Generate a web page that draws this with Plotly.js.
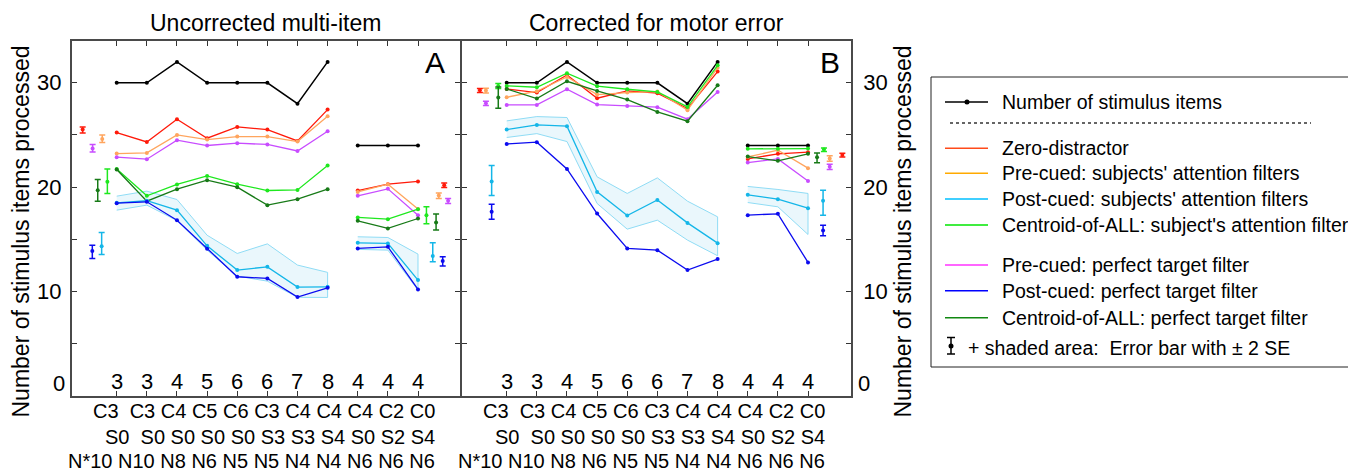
<!DOCTYPE html>
<html><head><meta charset="utf-8">
<script src="https://cdn.plot.ly/plotly-3.0.1.min.js"></script>
<style>html,body{margin:0;padding:0;background:#fff}#chart{width:1348px;height:473px}</style>
</head><body><div id="chart"></div>
<script>
// ---------- DATA ----------
const positions = [1,2,3,4,5,6,7,8,9,10,11];
const setSizeLabels = ['3','3','4','5','6','6','7','8','4','4','4'];
const rowC = ['C3','C3','C4','C5','C6','C3','C4','C4','C4','C2','C0'];
const rowS = ['S0','S0','S0','S0','S0','S3','S3','S4','S0','S2','S4'];
const rowN = ['N*10','N10','N8','N6','N5','N5','N4','N4','N6','N6','N6'];
const stimulusItems = [30,30,32,30,30,30,28,32,24,24,24];

// Panel A: uncorrected multi-item
const A_zero     = [25.23,24.33,26.51,24.69,25.77,25.52,24.43,27.43,19.68,20.29,20.55];
const A_preSubj  = [23.22,23.28,25.00,24.56,24.85,24.85,24.37,26.80,19.55,20.29,17.90];
const A_prePerf  = [22.87,22.68,24.50,23.99,24.21,24.09,23.47,25.36,19.17,19.84,17.32];
const A_centSubj = [21.75,19.17,20.26,21.08,20.29,19.68,19.74,22.08,17.10,16.94,17.89];
const A_centPerf = [21.69,18.66,19.81,20.67,20.00,18.28,18.85,19.81,16.78,16.05,17.00];
const A_postSubj = [18.50,18.70,17.80,14.38,12.06,12.37,10.43,10.46,14.67,14.61,11.10];
const A_postPerf = [18.47,18.60,16.84,14.10,11.42,11.26, 9.47,10.36,14.13,14.29,10.21];
const A_bandHi   = [19.14,19.62,18.82,15.40,13.65,14.57,12.54,11.84,15.25,15.18,13.59];
const A_bandLo   = [17.80,18.28,16.80,13.97,11.48,11.00, 9.45, 9.44,14.04,13.97,10.14];

// Panel B: corrected for motor error
const B_zero     = [29.41,29.06,30.75,28.52,29.22,29.00,27.53,31.07,22.71,23.19,23.35];
const B_preSubj  = [28.61,29.19,30.56,28.87,29.06,29.16,27.37,31.45,22.90,23.54,21.82];
const B_prePerf  = [27.88,27.88,29.38,27.91,27.78,27.66,26.51,29.12,22.36,22.71,20.60];
const B_centSubj = [29.70,29.57,30.91,29.67,29.38,29.12,27.69,31.67,23.67,23.67,23.70];
const B_centPerf = [29.41,28.49,30.14,29.22,28.39,27.21,26.32,29.76,22.93,22.52,23.19];
const B_postSubj = [25.52,25.96,25.84,19.55,17.29,18.78,16.58,14.64,19.27,18.85,17.99];
const B_postPerf = [24.14,24.31,21.75,17.48,14.13,13.97,12.06,13.11,17.32,17.45,12.79];
const B_bandHi   = [26.35,26.76,26.67,20.99,19.40,20.89,18.66,17.16,20.07,19.78,19.40];
const B_bandLo   = [24.76,25.13,24.37,18.44,15.98,16.84,14.93,13.43,18.53,18.12,15.47];

// Side error bars: [x position, mean, upper, lower] (left group, right group)
const errA_zero     = [[-0.13,25.52,25.77,25.20],[11.87,20.19,20.41,19.97]];
const errA_preSubj  = [[ 0.52,24.62,25.00,24.28],[11.69,19.20,19.45,18.92]];
const errA_postSubj = [[ 0.50,14.35,15.66,13.56],[11.49,13.40,14.67,12.85]];
const errA_centSubj = [[ 0.69,20.51,21.75,19.40],[11.28,17.32,18.12,16.49]];
const errA_prePerf  = [[ 0.20,23.70,24.09,23.38],[12.00,18.69,18.92,18.44]];
const errA_postPerf = [[ 0.19,13.88,14.45,13.17],[11.82,12.92,13.33,12.44]];
const errA_centPerf = [[ 0.37,19.71,20.73,18.66],[11.60,16.62,17.42,15.91]];

const errB_zero     = [[ 0.11,29.28,29.45,29.06],[12.14,23.09,23.25,22.90]];
const errB_preSubj  = [[ 0.31,29.25,29.47,29.02],[11.72,22.74,23.00,22.49]];
const errB_postSubj = [[ 0.50,20.55,22.08,19.20],[11.50,18.69,19.71,17.32]];
const errB_centSubj = [[ 0.72,29.70,29.92,29.45],[11.53,23.60,23.76,23.42]];
const errB_prePerf  = [[ 0.31,28.04,28.23,27.82],[11.72,21.95,22.20,21.69]];
const errB_postPerf = [[ 0.50,17.64,18.37,16.94],[11.50,15.86,16.36,15.34]];
const errB_centPerf = [[ 0.72,28.60,29.60,27.55],[11.30,22.87,23.28,22.33]];

const legendLabels = ['Zero-distractor','Pre-cued: subjects\' attention filters','Post-cued: subjects\' attention filters',
  'Centroid-of-ALL: subject\'s attention filter','Pre-cued: perfect target filter','Post-cued: perfect target filter',
  'Centroid-of-ALL: perfect target filter'];

// ---------- STYLE ----------
const FONT = 'Liberation Sans, Arial, Helvetica, sans-serif';
const C = {zero:'#ff1a0a', preSubj:'#ffa55e', postSubj:'#14b6e8', centSubj:'#1ee81e',
           prePerf:'#c84cff', postPerf:'#0b0bef', centPerf:'#177a17'};
const LC = ['#ff4a1a','#ffaa00','#00bfff','#00e600','#ff33ff','#0000ff','#118811'];
const W = 1348, H = 473;
const px = x => x / W, py = y => 1 - y / H;

function split(v){ return [...v.slice(0,8), null, ...v.slice(8)]; }
const xs = [...positions.slice(0,8), 8.5, ...positions.slice(8)];

const traces = [];
function band(hi, lo, xa, ya){
  [[0,8],[8,11]].forEach(([a,b])=>{
    const px_ = positions.slice(a,b), h = hi.slice(a,b), l = lo.slice(a,b);
    traces.push({x:[...px_, ...px_.slice().reverse()], y:[...h, ...l.slice().reverse()],
      xaxis:xa, yaxis:ya, mode:'lines', fill:'toself', fillcolor:'rgba(140,210,240,0.18)',
      line:{color:'#8fdcf5', width:1}, hoverinfo:'skip', showlegend:false});
  });
}
function line(v, color, xa, ya, w, ms){
  traces.push({x:xs, y:split(v), xaxis:xa, yaxis:ya, mode:'lines+markers',
    line:{color, width:w||1.3}, marker:{color, size:ms||4}, showlegend:false, connectgaps:false});
}
function errs(e, color, xa, ya){
  traces.push({x:e.map(r=>r[0]), y:e.map(r=>r[1]), xaxis:xa, yaxis:ya, mode:'markers',
    marker:{color, size:4}, showlegend:false,
    error_y:{type:'data', symmetric:false, array:e.map(r=>r[2]-r[1]), arrayminus:e.map(r=>r[1]-r[3]),
      color, thickness:1.5, width:3}});
}
function panel(d, xa, ya){
  band(d.bandHi, d.bandLo, xa, ya);
  line(stimulusItems, '#000', xa, ya, 1.5, 4);
  line(d.zero, C.zero, xa, ya); line(d.preSubj, C.preSubj, xa, ya);
  line(d.prePerf, C.prePerf, xa, ya); line(d.centSubj, C.centSubj, xa, ya);
  line(d.centPerf, C.centPerf, xa, ya); line(d.postSubj, C.postSubj, xa, ya);
  line(d.postPerf, C.postPerf, xa, ya);
  errs(d.e.zero, C.zero, xa, ya); errs(d.e.preSubj, C.preSubj, xa, ya);
  errs(d.e.postSubj, C.postSubj, xa, ya); errs(d.e.centSubj, C.centSubj, xa, ya);
  errs(d.e.prePerf, C.prePerf, xa, ya); errs(d.e.postPerf, C.postPerf, xa, ya);
  errs(d.e.centPerf, C.centPerf, xa, ya);
}
panel({zero:A_zero, preSubj:A_preSubj, prePerf:A_prePerf, centSubj:A_centSubj, centPerf:A_centPerf,
  postSubj:A_postSubj, postPerf:A_postPerf, bandHi:A_bandHi, bandLo:A_bandLo,
  e:{zero:errA_zero, preSubj:errA_preSubj, postSubj:errA_postSubj, centSubj:errA_centSubj,
     prePerf:errA_prePerf, postPerf:errA_postPerf, centPerf:errA_centPerf}}, 'x', 'y');
panel({zero:B_zero, preSubj:B_preSubj, prePerf:B_prePerf, centSubj:B_centSubj, centPerf:B_centPerf,
  postSubj:B_postSubj, postPerf:B_postPerf, bandHi:B_bandHi, bandLo:B_bandLo,
  e:{zero:errB_zero, preSubj:errB_preSubj, postSubj:errB_postSubj, centSubj:errB_centSubj,
     prePerf:errB_prePerf, postPerf:errB_postPerf, centPerf:errB_centPerf}}, 'x2', 'y2');

// ---------- AXES ----------
const yTicks = [0,5,10,15,20,25,30];
const yText = yTicks.map(v => (v % 10 === 0 && v > 0) ? String(v) : '');
const axLine = '#4a4a4a';
function xAx(domain, range, anchor){
  return {domain, range, anchor, tickvals:positions, showticklabels:false, ticks:'inside', ticklen:5,
    tickcolor:'#333', showline:true, mirror:'ticks', linecolor:axLine, linewidth:1.8, showgrid:false, zeroline:false, fixedrange:true};
}
function yAx(side, anchor, standoff){
  return {domain:[1-396/H, 1-41/H], range:[0,34], anchor, side, tickvals:yTicks, ticktext:yText,
    ticks:'inside', ticklen:5, tickcolor:'#333', showline:true, mirror:'ticks', linecolor:axLine, linewidth:1.8,
    showgrid:false, zeroline:false, tickfont:{size:22, color:'#000', family:FONT}, ticklabelstandoff:standoff, fixedrange:true};
}

// ---------- ANNOTATIONS ----------
const ann = [];
function T(text, x, y, o){ ann.push(Object.assign({text, x, y, xref:'paper', yref:'paper', showarrow:false,
  xanchor:'center', yanchor:'middle', font:{size:20, color:'#000', family:FONT}}, o||{})); }
[['x','y'],['x2','y2']].forEach(([xa,ya])=>{
  positions.forEach((p,i)=>ann.push({text:setSizeLabels[i], x:p, y:1.4, xref:xa, yref:ya, showarrow:false,
    xanchor:'center', yanchor:'middle', font:{size:22, color:'#000', family:FONT}}));
  const rows = [rowC, rowS, rowN], ys = [410.5, 436.5, 461];
  rows.forEach((r,k)=>{
    const txt = r[0] + (k < 2 ? '\u00a0\u00a0' : '\u00a0') + r.slice(1).join('\u00a0');
    ann.push({text:txt, x:11.6, y:py(ys[k]), xref:xa, yref:'paper', showarrow:false, xanchor:'right', yanchor:'middle',
      borderpad:0, font:{size:20, color:'#000', family:FONT}});
  });
});
T('0', px(67), py(383), {xanchor:'right', font:{size:22, color:'#000', family:FONT}});
T('0', px(856), py(383), {xanchor:'left', font:{size:22, color:'#000', family:FONT}});
T('Uncorrected multi-item', (px(71.7)+px(460))/2, py(23), {font:{size:23, color:'#000', family:FONT}});
T('Corrected for motor error', (px(462)+px(851))/2, py(23), {font:{size:23, color:'#000', family:FONT}});
T('A', px(434.5), py(63), {font:{size:30, color:'#000', family:FONT}});
T('B', px(830), py(63), {font:{size:30, color:'#000', family:FONT}});
T('Number of stimulus items processed', px(20), py(231.5), {textangle:-90, font:{size:23, color:'#000', family:FONT}});
T('Number of stimulus items processed', px(902), py(231.5), {textangle:-90, font:{size:23, color:'#000', family:FONT}});

// ---------- LEGEND (drawn) ----------
const shapes = [];
shapes.push({type:'rect', xref:'paper', yref:'paper', x0:px(931), x1:px(1360), y0:py(77), y1:py(367),
  line:{color:'#222', width:1}, fillcolor:'rgba(0,0,0,0)'});
shapes.push({type:'line', xref:'paper', yref:'paper', x0:px(945), x1:px(988), y0:py(102), y1:py(102), line:{color:'#000', width:1.3}});
shapes.push({type:'circle', xref:'paper', yref:'paper', x0:px(964.5), x1:px(969.5), y0:py(104.5), y1:py(99.5),
  fillcolor:'#000', line:{color:'#000', width:0}});
T('Number of stimulus items', px(1000), py(102), {xanchor:'left', font:{size:19.5, color:'#000', family:FONT}});
shapes.push({type:'line', xref:'paper', yref:'paper', x0:px(950), x1:px(1311), y0:py(123), y1:py(123),
  line:{color:'#333', width:1.5, dash:'dot'}});
const legY = [148.3,173.3,199,225,265,290.7,317.7];
legendLabels.forEach((lab,i)=>{
  shapes.push({type:'line', xref:'paper', yref:'paper', x0:px(945), x1:px(988), y0:py(legY[i]), y1:py(legY[i]),
    line:{color:LC[i], width:1.5}});
  T(lab, px(1000), py(legY[i]), {xanchor:'left', font:{size:19.5, color:'#000', family:FONT}});
});
// error bar icon
shapes.push({type:'line', xref:'paper', yref:'paper', x0:px(951), x1:px(951), y0:py(337.5), y1:py(354), line:{color:'#000', width:1.5}});
shapes.push({type:'line', xref:'paper', yref:'paper', x0:px(947), x1:px(955), y0:py(337.5), y1:py(337.5), line:{color:'#000', width:1.5}});
shapes.push({type:'line', xref:'paper', yref:'paper', x0:px(947), x1:px(955), y0:py(354), y1:py(354), line:{color:'#000', width:1.5}});
shapes.push({type:'circle', xref:'paper', yref:'paper', x0:px(948.5), x1:px(953.5), y0:py(348.5), y1:py(343.5),
  fillcolor:'#000', line:{color:'#000', width:0}});
T('+ shaded area:\u00a0\u00a0Error bar with \u00b1 2 SE', px(966), py(348.3), {xanchor:'left', font:{size:19.5, color:'#000', family:FONT}});

const layout = {
  width:W, height:H, margin:{l:0,r:0,t:0,b:0}, paper_bgcolor:'#fff', plot_bgcolor:'#fff',
  showlegend:false, font:{family:FONT, color:'#000'},
  xaxis: xAx([71.7/W, 460/W], [-0.494, 12.394], 'y'),
  xaxis2: xAx([462/W, 851/W], [-0.484, 12.427], 'y2'),
  yaxis: yAx('left', 'x', 4),
  yaxis2: yAx('right', 'x2', 6),
  annotations: ann, shapes
};
Plotly.newPlot('chart', traces, layout, {staticPlot:true, displayModeBar:false});
</script></body></html>
